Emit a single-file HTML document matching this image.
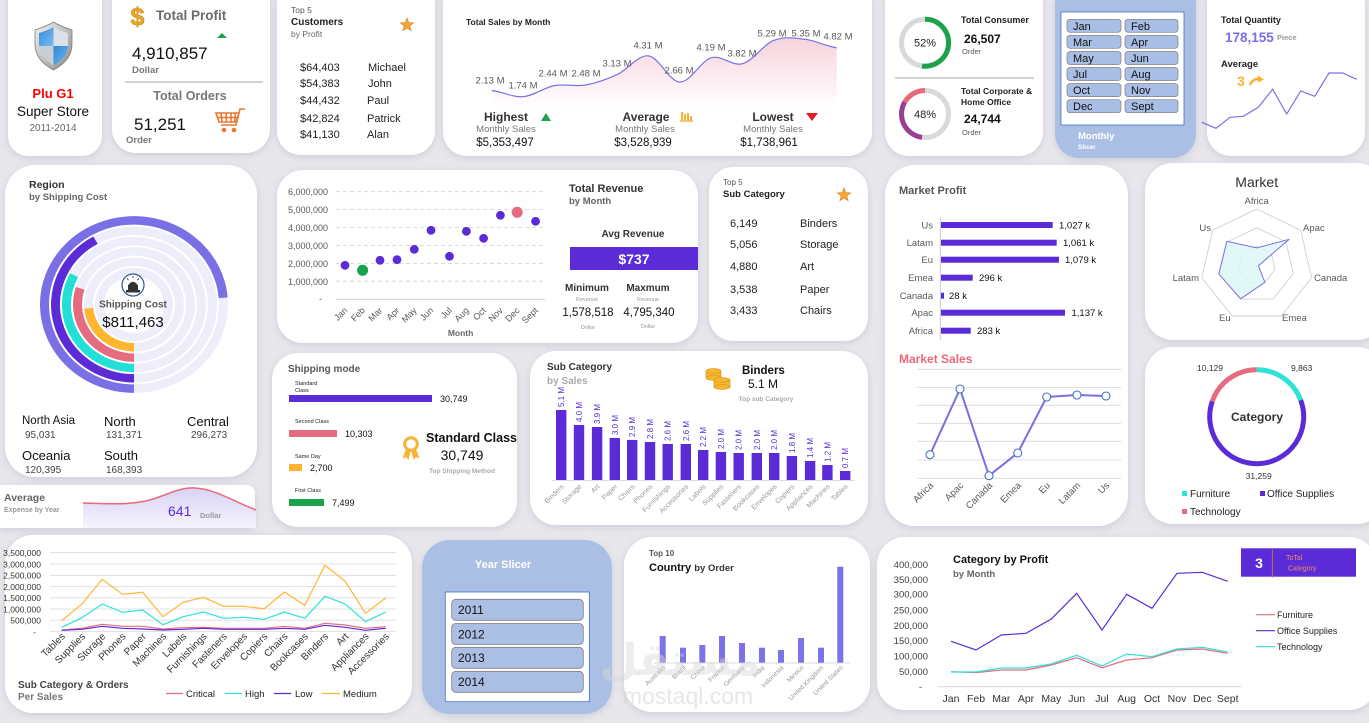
<!DOCTYPE html>
<html><head><meta charset="utf-8"><style>
html,body{margin:0;padding:0;background:#E7E7EC;overflow:hidden;}
svg{display:block;font-family:"Liberation Sans",Arial,sans-serif;}
</style></head><body>
<svg width="1369" height="723" viewBox="0 0 1369 723" xmlns="http://www.w3.org/2000/svg">
<defs>
<filter id="sh" x="-10%" y="-10%" width="120%" height="130%"><feDropShadow dx="0" dy="2" stdDeviation="4" flood-color="#8f8fa8" flood-opacity="0.3"/></filter>
<linearGradient id="pinkfill" x1="0" y1="0" x2="0" y2="1"><stop offset="0" stop-color="#F6D3DC"/><stop offset="1" stop-color="#FFFFFF"/></linearGradient>
<linearGradient id="lavfill" x1="0" y1="0" x2="0" y2="1"><stop offset="0" stop-color="#D9D2F6"/><stop offset="1" stop-color="#F6F4FD"/></linearGradient>
<linearGradient id="silver" x1="0" y1="0" x2="1" y2="1"><stop offset="0" stop-color="#f4f4f4"/><stop offset="1" stop-color="#8a8a8a"/></linearGradient>
<linearGradient id="blueq" x1="0" y1="0" x2="1" y2="1"><stop offset="0" stop-color="#2D86D6"/><stop offset="1" stop-color="#78BDF2"/></linearGradient>
<clipPath id="shieldclip"><path d="M39,33 C46,31 50,29 53.5,27 C57,29 61,31 68,33 L68,44 C68,55 61,61 53.5,65.5 C46,61 39,55 39,44 Z"/></clipPath>
</defs>
<rect x="0" y="0" width="1369" height="723" fill="#E7E7EC"/>

<!-- Cards -->
<g filter="url(#sh)">
<rect x="8" y="-20" width="94" height="176" rx="20" fill="#fff"/>
<rect x="112" y="-20" width="158" height="173" rx="24" fill="#fff"/>
<rect x="277" y="-20" width="158" height="175" rx="24" fill="#fff"/>
<rect x="443" y="-20" width="429" height="176" rx="24" fill="#fff"/>
<rect x="885" y="-20" width="158" height="176" rx="24" fill="#fff"/>
<rect x="1055" y="-20" width="141" height="178" rx="24" fill="#AABFE3"/>
<rect x="1207" y="-20" width="158" height="176" rx="24" fill="#fff"/>
<rect x="5" y="165" width="252" height="312" rx="30" fill="#fff"/>
<rect x="277" y="170" width="421" height="173" rx="26" fill="#fff"/>
<rect x="709" y="167" width="159" height="174" rx="24" fill="#fff"/>
<rect x="885" y="165" width="243" height="361" rx="30" fill="#fff"/>
<rect x="1145" y="163" width="240" height="177" rx="28" fill="#fff"/>
<rect x="1145" y="347" width="240" height="177" rx="28" fill="#fff"/>
<rect x="272" y="353" width="245" height="174" rx="26" fill="#fff"/>
<rect x="530" y="351" width="338" height="174" rx="26" fill="#fff"/>
<rect x="-5" y="485" width="260" height="43" rx="8" fill="#fff"/>
<rect x="5" y="535" width="407" height="178" rx="28" fill="#fff"/>
<rect x="422" y="540" width="190" height="174" rx="28" fill="#AABFE3"/>
<rect x="624" y="537" width="246" height="175" rx="28" fill="#fff"/>
<rect x="877" y="537" width="500" height="173" rx="28" fill="#fff"/>
</g>

<!-- Card 1: logo -->
<path d="M35,30 C44,27 49,25 53.5,22 C58,25 63,27 72,30 L72,44 C72,57 63,65 53.5,70 C44,65 35,57 35,44 Z" fill="url(#silver)" stroke="#7d7d7d" stroke-width="0.8"/>
<g clip-path="url(#shieldclip)">
<rect x="38" y="25" width="15.5" height="21" fill="url(#blueq)"/>
<rect x="53.5" y="46" width="16" height="21" fill="url(#blueq)"/>
<rect x="53.5" y="25" width="16" height="21" fill="#DCE1E7"/>
<rect x="38" y="46" width="15.5" height="21" fill="#C9CED5"/>
</g>
<text x="53" y="98" text-anchor="middle" font-size="13" font-weight="bold" fill="#FF0000">Plu G1</text>
<text x="53" y="116" text-anchor="middle" font-size="13.5" fill="#111">Super Store</text>
<text x="53" y="131" text-anchor="middle" font-size="10" fill="#666">2011-2014</text>

<!-- Card 2: total profit -->
<text x="137.5" y="25" text-anchor="middle" font-size="25" font-weight="bold" fill="#E9A92B" stroke="#C98A10" stroke-width="0.6">$</text>
<text x="156" y="20" font-size="13.5" font-weight="bold" fill="#6b6b6b">Total Profit</text>
<polygon points="217,38 227,38 222,33" fill="#1BA24B"/>
<text x="132" y="59" font-size="17" fill="#111">4,910,857</text>
<text x="132" y="73" font-size="9.5" font-weight="bold" fill="#777">Dollar</text>
<line x1="125" y1="82" x2="263" y2="82" stroke="#8a8a8a" stroke-width="0.8"/>
<text x="190" y="100" text-anchor="middle" font-size="12.5" font-weight="bold" fill="#777">Total Orders</text>
<text x="134" y="130" font-size="17" fill="#111">51,251</text>
<text x="126" y="143" font-size="9.5" font-weight="bold" fill="#777">Order</text>
<g stroke="#E8792E" fill="none" stroke-width="1.6">
<polyline points="245,109 240,109 236,125 221,125"/>
<polygon points="216,113 239,113 236,122 219,122"/>
<line x1="221" y1="113" x2="222" y2="122"/><line x1="226" y1="113" x2="226.5" y2="122"/><line x1="231" y1="113" x2="231" y2="122"/><line x1="235.5" y1="113" x2="234.5" y2="122"/>
<line x1="217.5" y1="117.5" x2="237.5" y2="117.5"/>
</g>
<circle cx="224" cy="130" r="2.3" fill="#E8792E"/><circle cx="234" cy="130" r="2.3" fill="#E8792E"/>

<!-- Card 3: top 5 customers -->
<text x="291" y="13" font-size="8.5" fill="#555">Top 5</text>
<text x="291" y="25" font-size="10" font-weight="bold" fill="#222">Customers</text>
<text x="291" y="37" font-size="8.5" fill="#666">by Profit</text>
<polygon points="407,18 408.76,22.57 413.66,22.84 409.85,25.93 411.11,30.66 407,28 402.89,30.66 404.15,25.93 400.34,22.84 405.24,22.57" fill="#F7A531" stroke="#D9822B" stroke-width="0.6"/>
<g font-size="11" fill="#222">
<text x="300" y="71">$64,403</text><text x="368" y="71">Michael</text>
<text x="300" y="87">$54,383</text><text x="368" y="87">John</text>
<text x="300" y="104">$44,432</text><text x="367" y="104">Paul</text>
<text x="300" y="122">$42,824</text><text x="367" y="122">Patrick</text>
<text x="300" y="138">$41,130</text><text x="367" y="138">Alan</text>
</g>

<!-- Card 4: total sales by month -->
<text x="466" y="25" font-size="8.5" font-weight="bold" fill="#222">Total Sales by Month</text>
<path d="M491.7,90.5 C502.1,91.5 512.7,97.5 523.1,96.7 C533.5,95.9 544,87.55 554.4,85.6 C564.8,83.65 575.4,86.83 585.8,85 C596.2,83.17 606.7,79.45 617.1,74.6 C627.5,69.75 638.1,54.65 648.5,55.9 C658.9,57.15 669.5,81.78 679.9,82.1 C690.3,82.42 700.8,60.87 711.2,57.8 C721.6,54.73 732.2,66.62 742.6,63.7 C753,60.78 763.5,44.37 773.9,40.3 C784.3,36.23 794.9,38.05 805.3,39.3 C815.7,40.55 826.3,46.38 836.7,47.8 L836.7,108 L491.7,108 Z" fill="url(#pinkfill)"/>
<path d="M491.7,90.5 C502.1,91.5 512.7,97.5 523.1,96.7 C533.5,95.9 544,87.55 554.4,85.6 C564.8,83.65 575.4,86.83 585.8,85 C596.2,83.17 606.7,79.45 617.1,74.6 C627.5,69.75 638.1,54.65 648.5,55.9 C658.9,57.15 669.5,81.78 679.9,82.1 C690.3,82.42 700.8,60.87 711.2,57.8 C721.6,54.73 732.2,66.62 742.6,63.7 C753,60.78 763.5,44.37 773.9,40.3 C784.3,36.23 794.9,38.05 805.3,39.3 C815.7,40.55 826.3,46.38 836.7,47.8" fill="none" stroke="#7B6FE6" stroke-width="1.2"/>
<g font-size="9.5" fill="#595959" text-anchor="middle">
<text x="490" y="83.5">2.13 M</text><text x="523" y="88.5">1.74 M</text><text x="553" y="76.5">2.44 M</text><text x="586" y="76.5">2.48 M</text>
<text x="617" y="66.5">3.13 M</text><text x="648" y="48.5">4.31 M</text><text x="679" y="73.5">2.66 M</text><text x="711" y="50.5">4.19 M</text>
<text x="742" y="56.5">3.82 M</text><text x="772" y="36.5">5.29 M</text><text x="806" y="36.5">5.35 M</text><text x="838" y="39.5">4.82 M</text>
</g>
<text x="506" y="121" text-anchor="middle" font-size="12" font-weight="bold" fill="#333">Highest</text>
<polygon points="541,121 551,121 546,113" fill="#1BA24B"/>
<text x="506" y="132" text-anchor="middle" font-size="9.5" fill="#777">Monthly Sales</text>
<text x="505" y="146" text-anchor="middle" font-size="11.5" fill="#111">$5,353,497</text>
<text x="646" y="121" text-anchor="middle" font-size="12" font-weight="bold" fill="#333">Average</text>
<g fill="#F9B233"><rect x="681" y="112" width="2" height="9"/><rect x="684" y="114" width="2" height="7"/><rect x="687" y="113" width="2" height="8"/><rect x="690" y="116" width="2" height="5"/><rect x="680" y="120.5" width="13" height="1.2"/></g>
<text x="645" y="132" text-anchor="middle" font-size="9.5" fill="#777">Monthly Sales</text>
<text x="643" y="146" text-anchor="middle" font-size="11.5" fill="#111">$3,528,939</text>
<text x="773" y="121" text-anchor="middle" font-size="12" font-weight="bold" fill="#333">Lowest</text>
<polygon points="806,113 818,113 812,121" fill="#E31E24"/>
<text x="773" y="132" text-anchor="middle" font-size="9.5" fill="#777">Monthly Sales</text>
<text x="769" y="146" text-anchor="middle" font-size="11.5" fill="#111">$1,738,961</text>

<!-- Card 5: consumer donuts -->
<circle cx="925" cy="42.7" r="23.5" fill="none" stroke="#D9D9D9" stroke-width="5"/>
<path d="M925,19.2 A23.5,23.5 0 1 1 922.05,66.0" fill="none" stroke="#1BA24B" stroke-width="5"/>
<text x="925" y="46.5" text-anchor="middle" font-size="11" fill="#222">52%</text>
<text x="961" y="23" font-size="9" font-weight="bold" fill="#222">Total Consumer</text>
<text x="964" y="43" font-size="12" font-weight="bold" fill="#111">26,507</text>
<text x="962" y="54" font-size="7.5" fill="#555">Order</text>
<line x1="895" y1="78" x2="1034" y2="78" stroke="#8a8a8a" stroke-width="0.8"/>
<circle cx="925" cy="114" r="23.5" fill="none" stroke="#D9D9D9" stroke-width="5"/>
<path d="M925,90.5 A23.5,23.5 0 0 0 904.65,102.25" fill="none" stroke="#E8697A" stroke-width="5"/>
<path d="M904.65,102.25 A23.5,23.5 0 0 0 922.05,137.3" fill="none" stroke="#9B3F95" stroke-width="5"/>
<text x="925" y="118" text-anchor="middle" font-size="11" fill="#222">48%</text>
<text x="961" y="94" font-size="8.5" font-weight="bold" fill="#222">Total Corporate &amp;</text>
<text x="961" y="105" font-size="8.5" font-weight="bold" fill="#222">Home Office</text>
<text x="964" y="123" font-size="12" font-weight="bold" fill="#111">24,744</text>
<text x="962" y="135" font-size="7.5" fill="#555">Order</text>

<!-- Card 6: monthly slicer -->
<rect x="1061" y="12" width="123" height="113" fill="#fff" stroke="#4472C4" stroke-width="0.8"/>
<g fill="#A9BEE4" stroke="#7f7f7f" stroke-width="0.7">
<rect x="1067" y="19.3" width="54" height="13" rx="3"/><rect x="1125" y="19.3" width="53" height="13" rx="3"/>
<rect x="1067" y="35.3" width="54" height="13" rx="3"/><rect x="1125" y="35.3" width="53" height="13" rx="3"/>
<rect x="1067" y="51.5" width="54" height="13" rx="3"/><rect x="1125" y="51.5" width="53" height="13" rx="3"/>
<rect x="1067" y="67.5" width="54" height="13" rx="3"/><rect x="1125" y="67.5" width="53" height="13" rx="3"/>
<rect x="1067" y="83.6" width="54" height="13" rx="3"/><rect x="1125" y="83.6" width="53" height="13" rx="3"/>
<rect x="1067" y="99.7" width="54" height="13" rx="3"/><rect x="1125" y="99.7" width="53" height="13" rx="3"/>
</g>
<g font-size="11" fill="#111">
<text x="1073" y="30">Jan</text><text x="1131" y="30">Feb</text>
<text x="1073" y="46">Mar</text><text x="1131" y="46">Apr</text>
<text x="1073" y="62">May</text><text x="1131" y="62">Jun</text>
<text x="1073" y="78">Jul</text><text x="1131" y="78">Aug</text>
<text x="1073" y="94">Oct</text><text x="1131" y="94">Nov</text>
<text x="1073" y="110">Dec</text><text x="1131" y="110">Sept</text>
</g>
<text x="1078" y="139" font-size="9.5" font-weight="bold" fill="#fff">Monthly</text>
<text x="1078" y="149" font-size="6.5" font-weight="bold" fill="#fff">Slicer</text>

<!-- Card 7: total quantity -->
<text x="1221" y="23" font-size="9" font-weight="bold" fill="#222">Total Quantity</text>
<text x="1225" y="42" font-size="13.5" font-weight="bold" fill="#7B6FE6">178,155</text>
<text x="1277" y="40" font-size="7.5" font-weight="bold" fill="#999">Piece</text>
<text x="1221" y="67" font-size="9.5" font-weight="bold" fill="#222">Average</text>
<text x="1237" y="86" font-size="14" font-weight="bold" fill="#FFB02E">3</text>
<path d="M1250,85 Q1253,78 1260,79" fill="none" stroke="#FFB02E" stroke-width="2.4"/>
<polygon points="1258,75.5 1264,79.5 1258,82.5" fill="#FFB02E"/>
<polyline points="1201.7,122.3 1216,128.3 1230,117.3 1243.3,116.3 1258.3,107.3 1272.7,89.3 1286.7,114 1300.7,91 1314.7,96.3 1329,73 1342.7,73 1356.7,79.3" fill="none" stroke="#7B6FE6" stroke-width="1.2"/>

<!-- Card 8: Region -->
<text x="29" y="188" font-size="10.5" font-weight="bold" fill="#333">Region</text>
<text x="29" y="200" font-size="9.5" font-weight="bold" fill="#666">by Shipping Cost</text>
<g transform="translate(134,304.5) scale(1,0.94)" fill="none" stroke-width="9">
<circle r="89.5" stroke="#EEEEFA"/><circle r="78.5" stroke="#EEEEFA"/><circle r="67.5" stroke="#EEEEFA"/>
<circle r="56.5" stroke="#EEEEFA"/><circle r="45.5" stroke="#EEEEFA"/><circle r="34.5" stroke="#EEEEFA"/>
<path d="M0,89.5 A89.5,89.5 0 1 1 89.2,-7.18" stroke="#7B6FE6"/>
<path d="M0,78.5 A78.5,78.5 0 0 1 -38.5,-68.4" stroke="#5A2BD6"/>
<path d="M0,67.5 A67.5,67.5 0 0 1 -59.9,-31.2" stroke="#22E0D6"/>
<path d="M0,56.5 A56.5,56.5 0 0 1 -53.8,-17.2" stroke="#E56C80"/>
<path d="M0,45.5 A45.5,45.5 0 0 1 -45.3,3.97" stroke="#FFB52E"/>
</g>
<circle cx="133" cy="285" r="11" fill="#fff" stroke="#2F5597" stroke-width="1.2"/>
<path d="M128,290 L128,285.5 Q133,278 138,285.5 L138,290 Z" fill="#333"/>
<rect x="126" y="290" width="14" height="2.5" fill="#333"/>
<g stroke="#333" stroke-width="0.9"><line x1="133" y1="276" x2="133" y2="278"/><line x1="127" y1="278.5" x2="128.5" y2="280"/><line x1="139" y1="278.5" x2="137.5" y2="280"/></g>
<text x="133" y="307.5" text-anchor="middle" font-size="10" font-weight="bold" fill="#555">Shipping Cost</text>
<text x="133" y="327" text-anchor="middle" font-size="15" fill="#111">$811,463</text>
<text x="22" y="424" font-size="11.5" fill="#111">North Asia</text>
<text x="25" y="438" font-size="10" fill="#444">95,031</text>
<text x="104" y="426" font-size="13" fill="#111">North</text>
<text x="106" y="438" font-size="10" fill="#444">131,371</text>
<text x="187" y="426" font-size="13" fill="#111">Central</text>
<text x="191" y="438" font-size="10" fill="#444">296,273</text>
<text x="22" y="460" font-size="13" fill="#111">Oceania</text>
<text x="25" y="473" font-size="10" fill="#444">120,395</text>
<text x="104" y="460" font-size="13" fill="#111">South</text>
<text x="106" y="473" font-size="10" fill="#444">168,393</text>

<!-- Card 16: Average strip -->
<path d="M83,503 C110,504 130,505 150,500 C170,494 180,487 195,488 C215,489 235,502 256,510 L256,528 L83,528 Z" fill="url(#lavfill)"/>
<path d="M83,503 C110,504 130,505 150,500 C170,494 180,487 195,488 C215,489 235,502 256,510" fill="none" stroke="#E8697A" stroke-width="1.5"/>
<text x="4" y="501" font-size="10.5" font-weight="bold" fill="#666">Average</text>
<text x="4" y="512" font-size="7" font-weight="bold" fill="#999">Expense by Year</text>
<text x="168" y="516" font-size="14" fill="#5A2BD6">641</text>
<text x="200" y="518" font-size="7.5" font-weight="bold" fill="#999">Dollar</text>

<!-- Card 9: Total revenue scatter -->
<g stroke="#cfcfcf" stroke-width="0.8" stroke-dasharray="4,3">
<line x1="336" y1="191.7" x2="545" y2="191.7"/><line x1="336" y1="209.6" x2="545" y2="209.6"/><line x1="336" y1="227.5" x2="545" y2="227.5"/>
<line x1="336" y1="245.4" x2="545" y2="245.4"/><line x1="336" y1="263.3" x2="545" y2="263.3"/><line x1="336" y1="281.2" x2="545" y2="281.2"/>
</g>
<line x1="336" y1="299.3" x2="545" y2="299.3" stroke="#cfcfcf" stroke-width="1"/>
<g font-size="9" fill="#595959" text-anchor="end">
<text x="328" y="195">6,000,000</text><text x="328" y="213">5,000,000</text><text x="328" y="231">4,000,000</text>
<text x="328" y="249">3,000,000</text><text x="328" y="267">2,000,000</text><text x="328" y="285">1,000,000</text><text x="322" y="302">-</text>
</g>
<g fill="#5A2BD6">
<circle cx="345" cy="265.3" r="4.4"/><circle cx="380" cy="260.3" r="4.4"/><circle cx="397" cy="259.7" r="4.4"/>
<circle cx="414.3" cy="249.3" r="4.4"/><circle cx="431" cy="230.3" r="4.4"/><circle cx="449.5" cy="256.3" r="4.4"/>
<circle cx="466.4" cy="231.3" r="4.4"/><circle cx="483.6" cy="238.3" r="4.4"/><circle cx="500.4" cy="215.3" r="4.4"/>
<circle cx="535.6" cy="221.3" r="4.4"/>
</g>
<circle cx="362.6" cy="270.3" r="5.5" fill="#17A34A"/>
<circle cx="517.2" cy="212.3" r="5.5" fill="#E56C80"/>
<g font-size="9" fill="#595959" text-anchor="end">
<text transform="translate(348,311) rotate(-45)">Jan</text><text transform="translate(365.6,311) rotate(-45)">Feb</text>
<text transform="translate(383,311) rotate(-45)">Mar</text><text transform="translate(400,311) rotate(-45)">Apr</text>
<text transform="translate(417.3,311) rotate(-45)">May</text><text transform="translate(434,311) rotate(-45)">Jun</text>
<text transform="translate(452.5,311) rotate(-45)">Jul</text><text transform="translate(469.4,311) rotate(-45)">Aug</text>
<text transform="translate(486.6,311) rotate(-45)">Oct</text><text transform="translate(503.4,311) rotate(-45)">Nov</text>
<text transform="translate(520.2,311) rotate(-45)">Dec</text><text transform="translate(538.6,311) rotate(-45)">Sept</text>
</g>
<text x="460.6" y="336" text-anchor="middle" font-size="8.5" font-weight="bold" fill="#666">Month</text>
<text x="569" y="192" font-size="11" font-weight="bold" fill="#333">Total Revenue</text>
<text x="569" y="204" font-size="9.5" font-weight="bold" fill="#666">by Month</text>
<text x="633" y="237" text-anchor="middle" font-size="10" font-weight="bold" fill="#333">Avg Revenue</text>
<rect x="570" y="247" width="128" height="23" fill="#5A2BD6"/>
<text x="634" y="264" text-anchor="middle" font-size="14" font-weight="bold" fill="#fff">$737</text>
<text x="587" y="291" text-anchor="middle" font-size="10" font-weight="bold" fill="#333">Minimum</text>
<text x="648" y="291" text-anchor="middle" font-size="10" font-weight="bold" fill="#333">Maxmum</text>
<text x="587" y="301" text-anchor="middle" font-size="5.5" fill="#999">Revenue</text>
<text x="648" y="301" text-anchor="middle" font-size="5.5" fill="#999">Revenue</text>
<text x="588" y="316" text-anchor="middle" font-size="11.5" fill="#111">1,578,518</text>
<text x="649" y="316" text-anchor="middle" font-size="11.5" fill="#111">4,795,340</text>
<text x="588" y="329" text-anchor="middle" font-size="5.5" fill="#999">Dollar</text>
<text x="648" y="328" text-anchor="middle" font-size="5.5" fill="#999">Dollar</text>

<!-- Card 10: Top 5 sub category -->
<text x="723" y="185" font-size="8" fill="#555">Top 5</text>
<text x="723" y="197" font-size="9.5" font-weight="bold" fill="#222">Sub Category</text>
<polygon points="844,188 845.76,192.57 850.66,192.84 846.85,195.93 848.11,200.66 844,198 839.89,200.66 841.15,195.93 837.34,192.84 842.24,192.57" fill="#F7A531" stroke="#D9822B" stroke-width="0.6"/>
<g font-size="11" fill="#222">
<text x="730" y="227">6,149</text><text x="800" y="227">Binders</text>
<text x="730" y="248">5,056</text><text x="800" y="248">Storage</text>
<text x="730" y="270">4,880</text><text x="800" y="270">Art</text>
<text x="730" y="293">3,538</text><text x="800" y="293">Paper</text>
<text x="730" y="314">3,433</text><text x="800" y="314">Chairs</text>
</g>

<!-- Card 11: Market Profit / Sales -->
<text x="899" y="194" font-size="11" font-weight="bold" fill="#555">Market Profit</text>
<line x1="940.3" y1="216.7" x2="940.3" y2="340" stroke="#bfbfbf" stroke-width="0.8"/>
<g fill="#5A2BD6">
<rect x="941" y="222" width="111.7" height="6"/><rect x="941" y="239.7" width="115.7" height="6"/>
<rect x="941" y="256.7" width="118" height="6"/><rect x="941" y="274.7" width="31.7" height="6"/>
<rect x="941" y="292.7" width="3" height="6"/><rect x="941" y="309.7" width="124" height="6"/>
<rect x="941" y="327.7" width="29.7" height="6"/>
</g>
<g font-size="9.5" fill="#595959" text-anchor="end">
<text x="933" y="228.5">Us</text><text x="933" y="246">Latam</text><text x="933" y="263">Eu</text>
<text x="933" y="281">Emea</text><text x="933" y="299">Canada</text><text x="933" y="316">Apac</text><text x="933" y="334">Africa</text>
</g>
<g font-size="9.5" fill="#111">
<text x="1059" y="228.5">1,027 k</text><text x="1063" y="246">1,061 k</text><text x="1065" y="263">1,079 k</text>
<text x="979" y="281">296 k</text><text x="949" y="299">28 k</text><text x="1071.5" y="316">1,137 k</text><text x="977" y="334">283 k</text>
</g>
<text x="899" y="363" font-size="12" font-weight="bold" fill="#E8697A">Market Sales</text>
<g stroke="#d9d9d9" stroke-width="0.8">
<line x1="917" y1="369.3" x2="1121" y2="369.3"/><line x1="917" y1="387.3" x2="1121" y2="387.3"/><line x1="917" y1="405.3" x2="1121" y2="405.3"/>
<line x1="917" y1="423.3" x2="1121" y2="423.3"/><line x1="917" y1="441.3" x2="1121" y2="441.3"/><line x1="917" y1="460" x2="1121" y2="460"/>
<line x1="917" y1="478.3" x2="1121" y2="478.3"/>
</g>
<polyline points="930,454.7 960,389 989,475.7 1017.7,453 1046.7,397 1077,395 1106,396" fill="none" stroke="#7B6FE6" stroke-width="2"/>
<g fill="#fff" stroke="#4472C4" stroke-width="1.1">
<circle cx="930" cy="454.7" r="4"/><circle cx="960" cy="389" r="4"/><circle cx="989" cy="475.7" r="4"/>
<circle cx="1017.7" cy="453" r="4"/><circle cx="1046.7" cy="397" r="4"/><circle cx="1077" cy="395" r="4"/><circle cx="1106" cy="396" r="4"/>
</g>
<g font-size="9.5" fill="#595959" text-anchor="end">
<text transform="translate(934,486) rotate(-45)">Africa</text><text transform="translate(964,486) rotate(-45)">Apac</text>
<text transform="translate(993,486) rotate(-45)">Canada</text><text transform="translate(1021.7,486) rotate(-45)">Emea</text>
<text transform="translate(1050.7,486) rotate(-45)">Eu</text><text transform="translate(1081,486) rotate(-45)">Latam</text>
<text transform="translate(1110,486) rotate(-45)">Us</text>
</g>

<!-- Card 12: Market radar -->
<text x="1256.7" y="187" text-anchor="middle" font-size="14" fill="#333">Market</text>
<g fill="none" stroke="#D0D0D0" stroke-width="0.9">
<polygon points="1256.7,209 1300.7,230.2 1311.6,277.8 1281.1,316 1232.3,316 1201.8,277.8 1212.7,230.2"/>
<polygon points="1256.7,227.8 1286,241.9 1293.3,273.7 1273,299.1 1240.4,299.1 1220.1,273.7 1227.4,241.9"/>
<polygon points="1256.7,246.5 1271.4,253.6 1275,269.5 1264.8,282.2 1248.6,282.2 1238.4,269.5 1242,253.6"/>
</g>
<polygon points="1256.7,247.85 1289.27,239.3 1258.4,265.7 1264.9,282.3 1240.6,298.8 1218.8,273.9 1226.8,241.4" fill="#DDF7F6" fill-opacity="0.85" stroke="#7B6FE6" stroke-width="1"/>
<g font-size="9.5" fill="#595959">
<text x="1256.7" y="204" text-anchor="middle">Africa</text>
<text x="1303" y="231">Apac</text>
<text x="1314" y="281">Canada</text>
<text x="1282" y="321">Emea</text>
<text x="1219" y="321">Eu</text>
<text x="1199" y="281" text-anchor="end">Latam</text>
<text x="1211" y="231" text-anchor="end">Us</text>
</g>

<!-- Card 13: Category donut -->
<path d="M1256.7,369.7 A47,47 0 0 1 1300.67,400.09" fill="none" stroke="#2DE2D6" stroke-width="5"/>
<path d="M1300.67,400.09 A47,47 0 1 1 1212.29,401.32" fill="none" stroke="#5A2BD6" stroke-width="5"/>
<path d="M1212.29,401.32 A47,47 0 0 1 1256.7,369.7" fill="none" stroke="#E56C7F" stroke-width="5"/>
<text x="1257" y="421" text-anchor="middle" font-size="12" font-weight="bold" fill="#333">Category</text>
<g font-size="8.5" fill="#333" text-anchor="middle">
<text x="1210" y="371">10,129</text><text x="1301.7" y="371">9,863</text><text x="1258.7" y="479">31,259</text>
</g>
<rect x="1182" y="491" width="5" height="5" fill="#2DE2D6"/>
<text x="1190" y="497" font-size="10" fill="#222">Furniture</text>
<rect x="1260" y="491" width="5" height="5" fill="#5A2BD6"/>
<text x="1267" y="497" font-size="10" fill="#222">Office Supplies</text>
<rect x="1182" y="509" width="5" height="5" fill="#E56C7F"/>
<text x="1190" y="515" font-size="10" fill="#222">Technology</text>

<!-- Card 14: Shipping mode -->
<text x="288" y="372" font-size="10" font-weight="bold" fill="#595959">Shipping mode</text>
<g font-size="5.5" fill="#222">
<text x="295" y="385">Standard</text><text x="295" y="392">Class</text>
<text x="295" y="423">Second Class</text>
<text x="295" y="458">Same Day</text>
<text x="295" y="492">First Class</text>
</g>
<rect x="289" y="395" width="143" height="7" fill="#5A2BD6"/>
<rect x="289" y="430" width="48" height="7" fill="#E56C80"/>
<rect x="289" y="464" width="13" height="7" fill="#FFB52E"/>
<rect x="289" y="499" width="35" height="7" fill="#1BA24B"/>
<g font-size="9" fill="#111">
<text x="440" y="402">30,749</text><text x="345" y="437">10,303</text><text x="310" y="471">2,700</text><text x="332" y="506">7,499</text>
</g>
<polygon points="406,449 402.5,458.5 406,457 408.5,460 410.5,451" fill="#F9B233"/>
<polygon points="416,449 419.5,458.5 416,457 413.5,460 411.5,451" fill="#F9B233"/>
<circle cx="411" cy="444" r="6.3" fill="none" stroke="#F9B233" stroke-width="3"/>
<text x="426" y="442" font-size="12.5" font-weight="bold" fill="#111">Standard Class</text>
<text x="462" y="460" text-anchor="middle" font-size="14" fill="#111">30,749</text>
<text x="462" y="473" text-anchor="middle" font-size="6.5" font-weight="bold" fill="#aaa">Top Shipping Method</text>

<!-- Card 15: Sub category bars -->
<text x="547" y="370" font-size="10" font-weight="bold" fill="#333">Sub Category</text>
<text x="547" y="384" font-size="10" font-weight="bold" fill="#aaa">by Sales</text>
<g fill="#F6B530" stroke="#D99510" stroke-width="0.6">
<rect x="706" y="371" width="15" height="7"/><ellipse cx="713.5" cy="378" rx="7.5" ry="2.5"/><ellipse cx="713.5" cy="371" rx="7.5" ry="2.5"/>
<rect x="714" y="380" width="16" height="7"/><ellipse cx="722" cy="387" rx="8" ry="2.5"/><ellipse cx="722" cy="380" rx="8" ry="2.5"/>
</g>
<text x="742" y="374" font-size="11.5" font-weight="bold" fill="#111">Binders</text>
<text x="763" y="388" text-anchor="middle" font-size="12" fill="#111">5.1 M</text>
<text x="766" y="401" text-anchor="middle" font-size="6.5" font-weight="bold" fill="#aaa">Top sub Category</text>
<line x1="551.6" y1="480.5" x2="854.4" y2="480.5" stroke="#d0d0d0" stroke-width="0.8"/>
<g fill="#5A2BD6">
<rect x="556" y="410" width="10.4" height="70"/><rect x="573.8" y="425" width="10.4" height="55"/>
<rect x="591.9" y="427" width="10.4" height="53"/><rect x="609.6" y="438" width="10.4" height="42"/>
<rect x="627" y="440" width="10.4" height="40"/><rect x="644.8" y="442" width="10.4" height="38"/>
<rect x="662.5" y="444" width="10.4" height="36"/><rect x="680.6" y="444" width="10.4" height="36"/>
<rect x="698" y="450" width="10.4" height="30"/><rect x="715.7" y="452" width="10.4" height="28"/>
<rect x="733.5" y="453" width="10.4" height="27"/><rect x="751.6" y="453" width="10.4" height="27"/>
<rect x="769" y="453" width="10.4" height="27"/><rect x="786.7" y="456" width="10.4" height="24"/>
<rect x="804.9" y="461" width="10.4" height="19"/><rect x="822.2" y="465" width="10.4" height="15"/>
<rect x="840" y="471" width="10.4" height="9"/>
</g>
<g font-size="8" fill="#5A2BD6">
<text transform="translate(564.2,407) rotate(-90)">5.1 M</text><text transform="translate(582,422) rotate(-90)">4.0 M</text>
<text transform="translate(600.1,424) rotate(-90)">3.9 M</text><text transform="translate(617.8,435) rotate(-90)">3.0 M</text>
<text transform="translate(635.2,437) rotate(-90)">2.9 M</text><text transform="translate(653,439) rotate(-90)">2.8 M</text>
<text transform="translate(670.7,441) rotate(-90)">2.6 M</text><text transform="translate(688.8,441) rotate(-90)">2.6 M</text>
<text transform="translate(706.2,447) rotate(-90)">2.2 M</text><text transform="translate(723.9,449) rotate(-90)">2.0 M</text>
<text transform="translate(741.7,450) rotate(-90)">2.0 M</text><text transform="translate(759.8,450) rotate(-90)">2.0 M</text>
<text transform="translate(777.2,450) rotate(-90)">2.0 M</text><text transform="translate(794.9,453) rotate(-90)">1.8 M</text>
<text transform="translate(813.1,458) rotate(-90)">1.4 M</text><text transform="translate(830.4,462) rotate(-90)">1.2 M</text>
<text transform="translate(848.2,468) rotate(-90)">0.7 M</text>
</g>
<g font-size="7" fill="#999" text-anchor="end">
<text transform="translate(564.2,487) rotate(-45)">Binders</text><text transform="translate(582,487) rotate(-45)">Storage</text>
<text transform="translate(600.1,487) rotate(-45)">Art</text><text transform="translate(617.8,487) rotate(-45)">Paper</text>
<text transform="translate(635.2,487) rotate(-45)">Chairs</text><text transform="translate(653,487) rotate(-45)">Phones</text>
<text transform="translate(670.7,487) rotate(-45)">Furnishings</text><text transform="translate(688.8,487) rotate(-45)">Accessories</text>
<text transform="translate(706.2,487) rotate(-45)">Labels</text><text transform="translate(723.9,487) rotate(-45)">Supplies</text>
<text transform="translate(741.7,487) rotate(-45)">Fasteners</text><text transform="translate(759.8,487) rotate(-45)">Bookcases</text>
<text transform="translate(777.2,487) rotate(-45)">Envelopes</text><text transform="translate(794.9,487) rotate(-45)">Copiers</text>
<text transform="translate(813.1,487) rotate(-45)">Appliances</text><text transform="translate(830.4,487) rotate(-45)">Machines</text>
<text transform="translate(848.2,487) rotate(-45)">Tables</text>
</g>

<!-- Card 17: Sub Category & Orders lines -->
<g stroke="#d9d9d9" stroke-width="0.8">
<line x1="50" y1="552.7" x2="396" y2="552.7"/><line x1="50" y1="564" x2="396" y2="564"/><line x1="50" y1="575.3" x2="396" y2="575.3"/>
<line x1="50" y1="586.5" x2="396" y2="586.5"/><line x1="50" y1="597.8" x2="396" y2="597.8"/><line x1="50" y1="609" x2="396" y2="609"/>
<line x1="50" y1="620.2" x2="396" y2="620.2"/><line x1="50" y1="631.5" x2="396" y2="631.5"/>
</g>
<g font-size="8.5" fill="#333" text-anchor="end">
<text x="41" y="556">3,500,000</text><text x="41" y="567.5">3,000,000</text><text x="41" y="578.5">2,500,000</text>
<text x="41" y="590">2,000,000</text><text x="41" y="601">1,500,000</text><text x="41" y="612.5">1,000,000</text>
<text x="41" y="623.5">500,000</text><text x="36" y="635">-</text>
</g>
<polyline points="61.7,620.7 81.95,604 102.2,579.3 122.45,594.3 142.7,592.3 162.95,616.7 183.2,602.3 203.45,597.3 223.7,606.3 243.95,606.3 264.2,608.7 284.45,592 304.7,605.3 324.95,565.3 345.2,581.3 365.45,613.3 385.7,598" fill="none" stroke="#FFB52E" stroke-width="1.2"/>
<polyline points="61.7,627.3 81.95,617.7 102.2,604 122.45,612.3 142.7,610 162.95,624.7 183.2,616.7 203.45,612 223.7,618.3 243.95,617.3 264.2,619.3 284.45,612 304.7,618.3 324.95,596.3 345.2,604 365.45,621.7 385.7,612" fill="none" stroke="#2DE2D6" stroke-width="1.2"/>
<polyline points="61.7,630 81.95,628.3 102.2,624.3 122.45,626.3 142.7,626.3 162.95,629 183.2,627.7 203.45,627.3 223.7,628.3 243.95,628.3 264.2,628.3 284.45,626.3 304.7,628.3 324.95,623.3 345.2,625 365.45,628.3 385.7,626.7" fill="none" stroke="#E56C80" stroke-width="1.2"/>
<polyline points="61.7,630.3 81.95,629.3 102.2,626.3 122.45,628.3 142.7,629 162.95,630 183.2,629.3 203.45,628.3 223.7,629.3 243.95,629.3 264.2,629.3 284.45,628.3 304.7,629.3 324.95,625.3 345.2,627.3 365.45,630.3 385.7,628.3" fill="none" stroke="#5A2BD6" stroke-width="1.2"/>
<g font-size="10" fill="#333" text-anchor="end">
<text transform="translate(65.7,637) rotate(-45)">Tables</text><text transform="translate(85.95,637) rotate(-45)">Supplies</text>
<text transform="translate(106.2,637) rotate(-45)">Storage</text><text transform="translate(126.45,637) rotate(-45)">Phones</text>
<text transform="translate(146.7,637) rotate(-45)">Paper</text><text transform="translate(166.95,637) rotate(-45)">Machines</text>
<text transform="translate(187.2,637) rotate(-45)">Labels</text><text transform="translate(207.45,637) rotate(-45)">Furnishings</text>
<text transform="translate(227.7,637) rotate(-45)">Fasteners</text><text transform="translate(247.95,637) rotate(-45)">Envelopes</text>
<text transform="translate(268.2,637) rotate(-45)">Copiers</text><text transform="translate(288.45,637) rotate(-45)">Chairs</text>
<text transform="translate(308.7,637) rotate(-45)">Bookcases</text><text transform="translate(328.95,637) rotate(-45)">Binders</text>
<text transform="translate(349.2,637) rotate(-45)">Art</text><text transform="translate(369.45,637) rotate(-45)">Appliances</text>
<text transform="translate(389.7,637) rotate(-45)">Accessories</text>
</g>
<text x="18" y="688" font-size="10" font-weight="bold" fill="#444">Sub Category &amp; Orders</text>
<text x="18" y="700" font-size="10" font-weight="bold" fill="#777">Per Sales</text>
<line x1="166" y1="693.5" x2="183" y2="693.5" stroke="#E56C80" stroke-width="1.2"/>
<text x="186" y="697" font-size="9.5" fill="#222">Critical</text>
<line x1="225" y1="693.5" x2="242" y2="693.5" stroke="#2DE2D6" stroke-width="1.2"/>
<text x="245" y="697" font-size="9.5" fill="#222">High</text>
<line x1="274" y1="693.5" x2="291" y2="693.5" stroke="#5A2BD6" stroke-width="1.2"/>
<text x="295" y="697" font-size="9.5" fill="#222">Low</text>
<line x1="322" y1="693.5" x2="340" y2="693.5" stroke="#FFB52E" stroke-width="1.2"/>
<text x="343" y="697" font-size="9.5" fill="#222">Medium</text>

<!-- Card 18: Year slicer -->
<text x="503" y="568" text-anchor="middle" font-size="11" font-weight="bold" fill="#fff">Year Slicer</text>
<rect x="445.3" y="592" width="144" height="109.7" fill="#fff" stroke="#4472C4" stroke-width="0.8"/>
<g fill="#AABFE3" stroke="#7f7f7f" stroke-width="0.8">
<rect x="451.7" y="599.3" width="131.6" height="21" rx="4"/><rect x="451.7" y="623.5" width="131.6" height="21" rx="4"/>
<rect x="451.7" y="647.3" width="131.6" height="21" rx="4"/><rect x="451.7" y="671.3" width="131.6" height="21" rx="4"/>
</g>
<g font-size="12" fill="#111">
<text x="458" y="614">2011</text><text x="458" y="638.5">2012</text><text x="458" y="662">2013</text><text x="458" y="686">2014</text>
</g>

<!-- Card 19: Top 10 country -->
<text x="649" y="556" font-size="8" font-weight="bold" fill="#555">Top 10</text>
<text x="649" y="571" font-size="11" font-weight="bold" fill="#111">Country <tspan font-size="9.5" fill="#333">by Order</tspan></text>
<g fill="#7E72E8">
<rect x="659.7" y="636" width="6" height="27"/><rect x="680" y="647.7" width="6" height="15.3"/>
<rect x="699.3" y="645" width="6" height="18"/><rect x="719" y="636" width="6" height="27"/>
<rect x="739" y="643" width="6" height="20"/><rect x="759" y="647.7" width="6" height="15.3"/>
<rect x="778" y="650" width="6" height="13"/><rect x="798" y="638" width="6" height="25"/>
<rect x="818" y="647.7" width="6" height="15.3"/><rect x="837.3" y="566.7" width="6" height="96.3"/>
</g>
<line x1="654" y1="663" x2="850" y2="663" stroke="#d0d0d0" stroke-width="0.8"/>
<g font-size="6.5" fill="#999" text-anchor="end">
<text transform="translate(665.7,668) rotate(-45)">Australia</text><text transform="translate(686,668) rotate(-45)">Brazil</text>
<text transform="translate(705.3,668) rotate(-45)">China</text><text transform="translate(725,668) rotate(-45)">France</text>
<text transform="translate(745,668) rotate(-45)">Germany</text><text transform="translate(765,668) rotate(-45)">India</text>
<text transform="translate(784,668) rotate(-45)">Indonesia</text><text transform="translate(804,668) rotate(-45)">Mexico</text>
<text transform="translate(824,668) rotate(-45)">United Kingdom</text><text transform="translate(843.3,668) rotate(-45)">United States</text>
</g>
<text x="680" y="675" text-anchor="middle" font-size="44" font-weight="bold" fill="#d6d6d6" fill-opacity="0.45" font-family="DejaVu Sans, sans-serif">مستقل</text>
<text x="688" y="704" text-anchor="middle" font-size="23" fill="#d4d4d4" fill-opacity="0.55">mostaql.com</text>

<!-- Card 20: Category by profit -->
<line x1="938" y1="686.7" x2="1241" y2="686.7" stroke="#d0d0d0" stroke-width="0.8"/>
<g font-size="9.5" fill="#404040" text-anchor="end">
<text x="928" y="568">400,000</text><text x="928" y="583">350,000</text><text x="928" y="597.5">300,000</text>
<text x="928" y="613.5">250,000</text><text x="928" y="629">200,000</text><text x="928" y="644">150,000</text>
<text x="928" y="659.5">100,000</text><text x="928" y="675">50,000</text><text x="922" y="690">-</text>
</g>
<g font-size="10.5" fill="#333" text-anchor="middle">
<text x="951" y="702">Jan</text><text x="976" y="702">Feb</text><text x="1001.3" y="702">Mar</text><text x="1026" y="702">Apr</text>
<text x="1051.3" y="702">May</text><text x="1076.7" y="702">Jun</text><text x="1102" y="702">Jul</text><text x="1126.7" y="702">Aug</text>
<text x="1152" y="702">Oct</text><text x="1177" y="702">Nov</text><text x="1202.3" y="702">Dec</text><text x="1227.7" y="702">Sept</text>
</g>
<polyline points="951,641.3 976,650 1001.3,635 1026,633.3 1051.3,619 1076.7,593.3 1102,630 1126.7,594.3 1152,608.3 1177,573.3 1202.3,572.3 1227.7,581.3" fill="none" stroke="#5A2BD6" stroke-width="1.2"/>
<polyline points="951,671.7 976,672.7 1001.3,670 1026,670 1051.3,665 1076.7,657.7 1102,667.7 1126.7,660 1152,657.7 1177,650 1202.3,649 1227.7,653.3" fill="none" stroke="#E56C80" stroke-width="1.2"/>
<polyline points="951,672 976,672 1001.3,668 1026,668 1051.3,664 1076.7,655.3 1102,666 1126.7,654 1152,656.7 1177,649 1202.3,647.3 1227.7,652" fill="none" stroke="#2DE2D6" stroke-width="1.2"/>
<text x="953" y="563" font-size="11" font-weight="bold" fill="#111">Category by Profit</text>
<text x="953" y="577" font-size="9.5" font-weight="bold" fill="#666">by Month</text>
<rect x="1241" y="548.3" width="115" height="28.4" fill="#5A2BD6"/>
<text x="1259" y="568" text-anchor="middle" font-size="14" font-weight="bold" fill="#fff">3</text>
<line x1="1272.3" y1="550" x2="1272.3" y2="578" stroke="#E8792E" stroke-width="0.8"/>
<text x="1286" y="560" font-size="7" fill="#F28C6C">ToTal</text>
<text x="1288" y="570.5" font-size="7" fill="#F28C6C">Category</text>
<line x1="1256" y1="614.7" x2="1275" y2="614.7" stroke="#E56C80" stroke-width="1.2"/>
<text x="1277" y="618" font-size="9" fill="#222">Furniture</text>
<line x1="1256" y1="630.7" x2="1275" y2="630.7" stroke="#5A2BD6" stroke-width="1.2"/>
<text x="1277" y="634" font-size="9" fill="#222">Office Supplies</text>
<line x1="1256" y1="646.7" x2="1275" y2="646.7" stroke="#2DE2D6" stroke-width="1.2"/>
<text x="1277" y="650" font-size="9" fill="#222">Technology</text>
</svg>
</body></html>
